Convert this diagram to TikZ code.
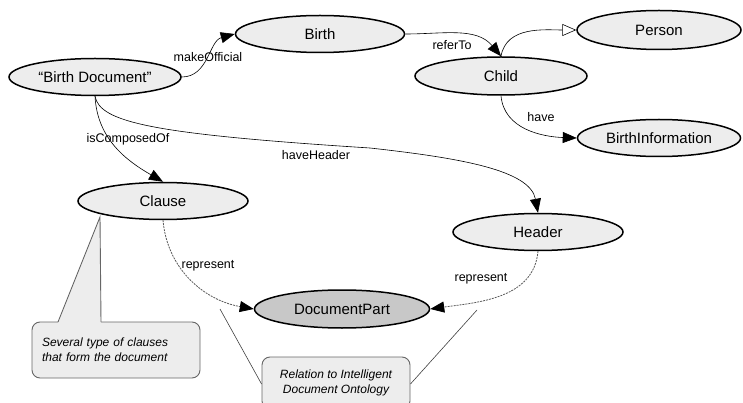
\documentclass[tikz,border=0pt]{standalone}
\usepackage{fontspec}
\setmainfont{Liberation Sans}
\usetikzlibrary{shapes.geometric,arrows.meta}
\definecolor{nodefill}{HTML}{EDEDED}
\definecolor{dpfill}{HTML}{C8C8C8}
\definecolor{noteline}{HTML}{666666}
\begin{document}
\begin{tikzpicture}[x=1pt,y=1pt,
  concept/.style={ellipse,draw=black,line width=1.5pt,fill=nodefill,inner sep=0pt,
    minimum height=37pt,font=\fontsize{15}{18}\selectfont},
  rel/.style={draw=black,line width=0.6pt,-{Triangle[length=14pt,width=11pt,color=black]}},
  isa/.style={draw=black,line width=0.6pt,-{Triangle[open,length=14pt,width=12pt,line width=0.6pt]}},
  reprel/.style={draw=black!65,line width=0.8pt,dash pattern=on 2pt off 1pt,
    -{Triangle[length=14pt,width=11pt,color=black]}},
  elabel/.style={font=\fontsize{12.5}{15}\selectfont,inner sep=0pt},
  notebox/.style={draw=noteline,line width=0.9pt,fill=nodefill,rounded corners=8pt,
    font=\fontsize{12}{15}\selectfont\itshape,inner sep=0pt},
  noteptr/.style={draw=black!75,line width=0.6pt}]
\useasboundingbox (0,0) rectangle (743,-403);
\clip (0,0) rectangle (743,-403);

% concept nodes
\node[concept,minimum width=172pt] (bd) at (95,-77) {“Birth Document”};
\node[concept,minimum width=169pt] (birth) at (320,-34) {Birth};
\node[concept,minimum width=164pt,minimum height=39pt] (person) at (659,-30) {Person};
\node[concept,minimum width=172pt,minimum height=38pt] (child) at (501,-76) {Child};
\node[concept,minimum width=163pt] (binfo) at (659,-138) {BirthInformation};
\node[concept,minimum width=170pt] (clause) at (163,-201) {Clause};
\node[concept,minimum width=170pt] (header) at (538,-232) {Header};
\node[concept,minimum width=175pt,minimum height=38pt,fill=dpfill] (dp) at (342,-309) {DocumentPart};

% relations
\draw[rel] (bd.east) to[out=0,in=195] (birth.west);
\draw[rel] (birth.east) to[out=0,in=130] (child.north);
\draw[isa] (child.north) to[out=80,in=180] (person.west);
\draw[rel] (child.south) to[out=-85,in=178] (binfo.west);
\draw[rel] (bd.south) to[out=-87,in=150] (clause.north);
\coordinate (hh) at (370,-148);
\draw[rel] (bd.south) .. controls (100,-122) and (150,-134) .. (hh)
  .. controls (460,-158) and (530,-170) .. (header.north);
\draw[reprel] (clause.south) to[out=-85,in=170] (dp.west);
\draw[reprel] (header.south) to[out=-95,in=8] (dp.east);

% labels
\node[elabel] (l1) at (208,-57) {makeOfficial};
\node[elabel] (l2) at (452,-45) {referTo};
\node[elabel] (l3) at (541,-117) {have};
\node[elabel] (l4) at (128,-139) {isComposedOf};
\node[elabel] (l5) at (316,-155) {haveHeader};
\node[elabel] (l6) at (208,-266) {represent};
\node[elabel] (l7) at (481,-279) {represent};

% note 1
\node[notebox,minimum width=168pt,minimum height=56pt,text width=148pt,align=left,
  inner xsep=10pt] (n1) at (116,-350) {Several type of clauses\\that form the document};
\coordinate (a1) at (100,-217);
\coordinate (b1) at (58,-322);
\coordinate (c1) at (101,-322);
\fill[nodefill] ([yshift=-0.9pt]b1) -- (a1) -- ([yshift=-0.9pt]c1) -- cycle;
\draw[noteline,line width=0.9pt] (b1) -- (a1) -- (c1);

% note 2
\node[notebox,minimum width=148pt,minimum height=52pt,align=center] (n2) at (336,-383)
  {Relation to Intelligent\\Document Ontology};
\coordinate (p1) at (220,-309);
\coordinate (p2) at (477,-310);
\draw[noteptr] (p1) -- ([yshift=-1pt]n2.west);
\draw[noteptr] (p2) -- ([yshift=-1pt]n2.east);
\end{tikzpicture}
\end{document}
